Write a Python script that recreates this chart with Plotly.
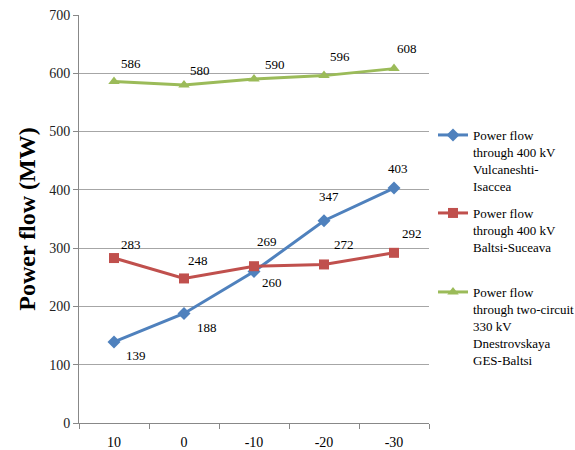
import plotly.graph_objects as go

categories = ["10", "0", "-10", "-20", "-30"]
vulcaneshti = [139, 188, 260, 347, 403]
baltsi_suceava = [283, 248, 269, 272, 292]
dnestrovskaya = [586, 580, 590, 596, 608]

names = [
    "Power flow<br>through 400 kV<br>Vulcaneshti-<br>Isaccea",
    "Power flow<br>through 400 kV<br>Baltsi-Suceava",
    "Power flow<br>through two-circuit<br>330 kV<br>Dnestrovskaya<br>GES-Baltsi",
]
colors = ["#4F81BD", "#C0504D", "#9BBB59"]
symbols = ["diamond", "square", "triangle-up"]
msizes = [10, 10, 10]

# label offsets in pixels (dx, dy up)
offsets = [
    [(22, -14), (23, -14), (18, -11), (5, 24), (4, 20)],
    [(17, 14), (14, 18), (13, 25), (20, 20), (18, 19)],
    [(17, 18), (16, 14), (21, 15), (16, 19), (13, 20)],
]

series = [vulcaneshti, baltsi_suceava, dnestrovskaya]
legend_ids = ["legend", "legend2", "legend3"]
legend_tops = [120, 198, 277]

FONT = "Liberation Serif, Times New Roman, serif"
fig = go.Figure()
annotations = []
for i, vals in enumerate(series):
    fig.add_trace(go.Scatter(
        x=categories, y=vals, mode="lines+markers", name=names[i],
        line=dict(color=colors[i], width=3),
        marker=dict(symbol=symbols[i], size=msizes[i], color=colors[i]),
        legend=legend_ids[i],
    ))
    for j, v in enumerate(vals):
        dx, dy = offsets[i][j]
        annotations.append(dict(
            x=j, y=v, xref="x", yref="y", text=str(v),
            showarrow=False, xshift=dx, yshift=dy,
            font=dict(family=FONT, size=13, color="#000"),
        ))

layout_legends = {}
for i, lid in enumerate(legend_ids):
    layout_legends[lid] = dict(
        x=433 / 575, y=1 - legend_tops[i] / 450, xref="container", yref="container",
        xanchor="left", yanchor="top", valign="top",
        font=dict(family=FONT, size=13, color="#000"),
        bgcolor="rgba(0,0,0,0)", borderwidth=0,
    )

fig.update_layout(
    width=575, height=450,
    margin=dict(l=79, r=146, t=15, b=27, autoexpand=False),
    paper_bgcolor="white", plot_bgcolor="white",
    showlegend=True,
    annotations=annotations,
    **layout_legends,
)
fig.update_xaxes(
    type="category", range=[-0.5, 4.5], tickson="boundaries",
    ticks="outside", ticklen=5, tickcolor="#888", ticklabelstandoff=6,
    showline=True, linecolor="#888", linewidth=1, showgrid=False,
    tickfont=dict(family=FONT, size=14, color="#000"),
)
fig.update_yaxes(
    range=[0, 700], dtick=100, ticks="outside", ticklen=5, tickcolor="#888",
    showline=True, linecolor="#888", linewidth=1,
    showgrid=True, gridcolor="#a6a6a6", gridwidth=1, zeroline=False,
    tickfont=dict(family=FONT, size=14, color="#222"),
    title=dict(text="<b>Power flow (MW)</b>", standoff=6,
               font=dict(family=FONT, size=24, color="#000")),
)

fig.write_html("out.html")
